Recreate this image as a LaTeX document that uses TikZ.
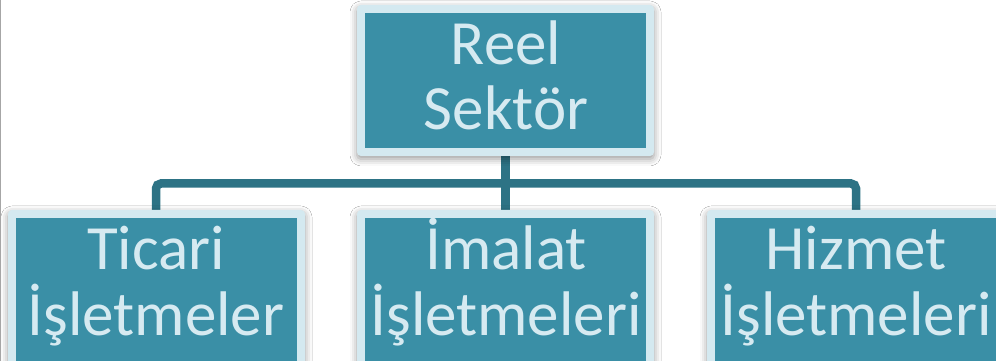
\documentclass[tikz,border=0pt]{standalone}
\usepackage{fontspec}
\setmainfont{Carlito}
\usetikzlibrary{shadows.blur}
\definecolor{boxfill}{HTML}{3A8FA6}
\definecolor{boxlight}{HTML}{D4E9F0}
\definecolor{connc}{HTML}{2D7385}
\definecolor{txtc}{HTML}{D6EAF1}
\tikzset{
  boxframe/.style={rectangle, minimum width=297pt, minimum height=#1, inner sep=0pt},
  orgbox/.style={boxframe=#1,
    fill=boxlight, rounded corners=4pt,
    blur shadow={shadow xshift=0pt, shadow yshift=-3pt, shadow blur radius=7pt, shadow opacity=40},
    path picture={\fill[boxfill, sharp corners] ([shift={(8pt,-8pt)}]path picture bounding box.north west) rectangle ([shift={(-8pt,8pt)}]path picture bounding box.south east);}},
  lbl/.style={anchor=base, text=txtc, inner sep=0pt, font=\fontsize{63}{63}\selectfont},
  conn/.style={draw=connc, line width=8.5pt, rounded corners=5pt}
}
\begin{document}
\begin{tikzpicture}[x=1pt,y=1pt]
\useasboundingbox (0,0) rectangle (996,361);
\clip (0,0) rectangle (996,361);
\fill[white] (0,0) rectangle (996,361);
\fill[black!35] (0,0) rectangle (1,361);
% box frames (invisible, for connector anchors)
\node[boxframe=151pt] (top) at (505.5,280.5) {};
\node[boxframe=160pt] (ticari) at (156.5,71) {};
\node[boxframe=160pt] (imalat) at (505.5,71) {};
\node[boxframe=160pt] (hizmet) at (855.5,71) {};
% connectors (behind the boxes)
\coordinate (bus) at (505.5,177.5);
\draw[conn] ([xshift=-0.5pt]ticari.north) |- (bus) -| ([xshift=0.5pt]hizmet.north);
\draw[conn] (top.south) -- (imalat.north);
% visible boxes
\node[orgbox=151pt] (topbox) at (top) {};
\node[orgbox=160pt] (ticaribox) at (ticari) {};
\node[orgbox=160pt] (imalatbox) at (imalat) {};
\node[orgbox=160pt] (hizmetbox) at (hizmet) {};
% labels
\node[lbl] (t1) at (506,296) {Reel};
\node[lbl] (t2) at (506,231) {Sektör};
\node[lbl] (l1) at (156,91) {Ticari};
\node[lbl] (l2) at (156,25) {İşletmeler};
\node[lbl] (m1) at (506,91) {İmalat};
\node[lbl] (m2) at (506,25) {İşletmeleri};
\node[lbl] (r1) at (856,91) {Hizmet};
\node[lbl] (r2) at (856,25) {İşletmeleri};
\end{tikzpicture}
\end{document}
